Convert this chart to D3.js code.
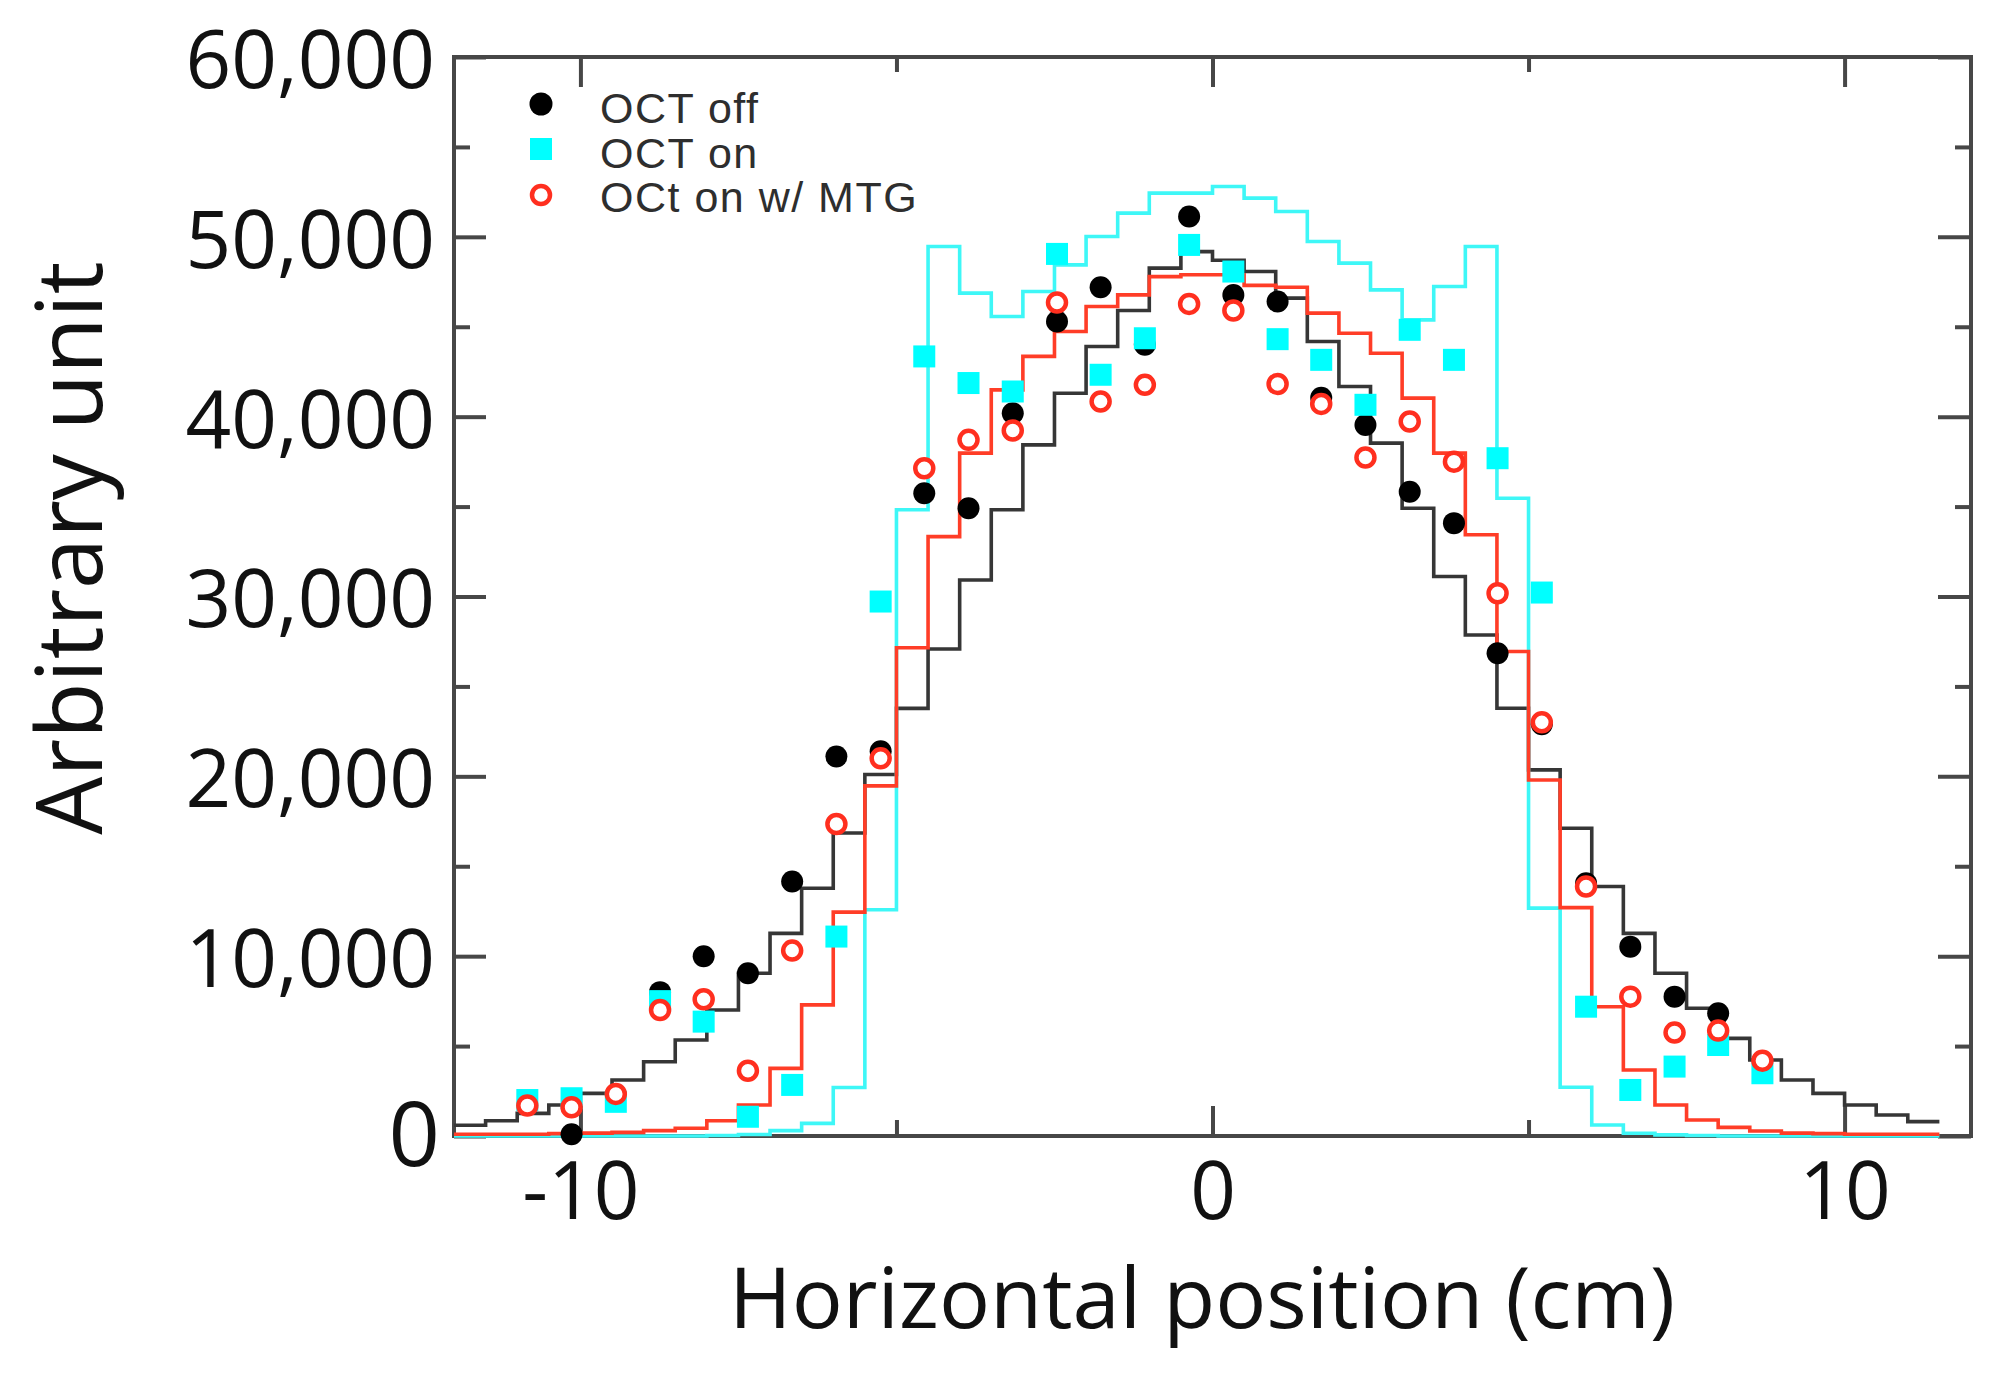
<!DOCTYPE html>
<html><head><meta charset="utf-8">
<script src="https://cdn.jsdelivr.net/npm/d3@7"></script>
<style>body{margin:0;background:#fff}svg{display:block}</style>
</head><body>
<svg id="c" width="1997" height="1378"></svg>
<script>
// ---- data ----
const binStarts = [-12,-11.5,-11,-10.5,-10,-9.5,-9,-8.5,-8,-7.5,-7,-6.5,-6,-5.5,-5,-4.5,-4,-3.5,-3,-2.5,-2,-1.5,-1,-0.5,0,0.5,1,1.5,2,2.5,3,3.5,4,4.5,5,5.5,6,6.5,7,7.5,8,8.5,9,9.5,10,10.5,11];
const binEnd = 11.5;
const histOff = [600,850,1260,1720,2370,3110,4130,5340,7010,9050,11270,13780,16850,20100,23780,27080,30920,34820,38430,41300,43900,45900,48260,49180,48700,48070,46590,44180,41680,38530,34910,31110,27860,23790,20360,17110,13870,11270,9050,7100,5430,4230,3110,2370,1720,1170,800];
const histOn = [0,0,0,0,0,0,0,0,30,80,300,700,2700,12580,34820,49460,46870,45570,46960,48440,50020,51320,52430,52430,52800,52150,51410,49740,48540,47050,45380,47240,49460,35460,12670,2710,610,150,60,30,0,0,0,0,0,0,0];
const histMTG = [100,100,100,130,160,200,300,430,850,1720,3760,7290,12450,19470,27150,33330,37970,41490,43350,44740,46130,46770,47790,47890,47890,47300,47200,45760,44640,43530,41030,37970,33430,26940,19800,12700,7190,3670,1720,890,480,280,160,130,100,100,100];

const positions = [-10.84,-10.14,-9.44,-8.74,-8.05,-7.35,-6.65,-5.95,-5.25,-4.56,-3.86,-3.16,-2.46,-1.77,-1.07,-0.37,0.33,1.03,1.72,2.42,3.12,3.82,4.51,5.21,5.91,6.61,7.31,8.0,8.7];
const ptsOff = [null,100,null,8000,10000,9050,14150,21100,21400,35740,34910,40190,45290,47200,44000,51130,46770,46400,41050,39540,35830,34080,26840,22900,14050,10530,7750,6820,null];
const ptsOn = [2000,2100,1900,7500,6360,1070,2840,11090,29720,43350,41870,41400,49050,42330,44360,49550,48070,44310,43160,40660,44830,43160,37690,30220,7190,2560,3860,5060,3490];
const ptsMTG = [1700,1600,2340,7010,7600,3630,10310,17350,21000,37130,38710,39230,46350,40840,41770,46270,45900,41820,40710,37730,39730,37500,30180,23010,13870,7750,5750,5860,4190];

const legendLabels = ["OCT off","OCT on","OCt on w/ MTG"];
const xMajor = [-10,0,10], xMinor = [-5,5];
const yMajor = [0,10000,20000,30000,40000,50000,60000];
const yMinor = [5000,15000,25000,35000,45000,55000];
const xTitle = "Horizontal position (cm)", yTitle = "Arbitrary unit";

// ---- drawing ----
const svg = d3.select("#c");
const L=454, R=1971, T=57, B=1136;
const x = d3.scaleLinear().domain([-12,12]).range([L,R]);
const y = d3.scaleLinear().domain([0,60000]).range([B,T]);
const frameCol = "#474747";
const tickFont = "'Open Sans', sans-serif";

svg.append("rect").attr("width",1997).attr("height",1378).attr("fill","#fff");

function styleAxis(g){
  g.select(".domain").remove();
  g.selectAll(".tick line").attr("stroke",frameCol).attr("stroke-width",4);
}
// bottom
svg.append("g").attr("transform",`translate(0,${B})`)
  .call(d3.axisBottom(x).tickValues(xMajor).tickSizeInner(-30).tickSizeOuter(0).tickPadding(26).tickFormat(d=>String(d)))
  .call(styleAxis)
  .call(g=>g.selectAll("text").attr("font-family",tickFont).attr("font-size",80).attr("fill","#111"));
svg.append("g").attr("transform",`translate(0,${B})`)
  .call(d3.axisBottom(x).tickValues(xMinor).tickSizeInner(-16).tickSizeOuter(0).tickFormat(""))
  .call(styleAxis);
// top
svg.append("g").attr("transform",`translate(0,${T})`)
  .call(d3.axisTop(x).tickValues(xMajor).tickSizeInner(-30).tickSizeOuter(0).tickFormat(""))
  .call(styleAxis);
svg.append("g").attr("transform",`translate(0,${T})`)
  .call(d3.axisTop(x).tickValues(xMinor).tickSizeInner(-15).tickSizeOuter(0).tickFormat(""))
  .call(styleAxis);
// left
svg.append("g").attr("transform",`translate(${L},0)`)
  .call(d3.axisLeft(y).tickValues(yMajor).tickSizeInner(-32).tickSizeOuter(0).tickPadding(19).tickFormat(d3.format(",")))
  .call(styleAxis)
  .call(g=>g.selectAll("text").attr("font-family",tickFont).attr("font-size",d=>d===0?90:80).attr("fill","#111")
     .attr("dy",d=>d===0?"0.33em":"0.38em").attr("x",d=>d===0?-14:-19));
svg.append("g").attr("transform",`translate(${L},0)`)
  .call(d3.axisLeft(y).tickValues(yMinor).tickSizeInner(-16).tickSizeOuter(0).tickFormat(""))
  .call(styleAxis);
// right
svg.append("g").attr("transform",`translate(${R},0)`)
  .call(d3.axisRight(y).tickValues(yMajor).tickSizeInner(-33).tickSizeOuter(0).tickFormat(""))
  .call(styleAxis);
svg.append("g").attr("transform",`translate(${R},0)`)
  .call(d3.axisRight(y).tickValues(yMinor).tickSizeInner(-16).tickSizeOuter(0).tickFormat(""))
  .call(styleAxis);

// frame
svg.append("rect").attr("x",L).attr("y",T).attr("width",R-L).attr("height",B-T)
  .attr("fill","none").attr("stroke",frameCol).attr("stroke-width",4);

// histograms
const line = d3.line().x(d=>x(d[0])).y(d=>y(d[1])).curve(d3.curveStepAfter);
function hist(vals,col){
  const pts = binStarts.map((s,i)=>[s,vals[i]]);
  pts.push([binEnd, vals[vals.length-1]]);
  svg.append("path").datum(pts).attr("d",line).attr("fill","none")
    .attr("stroke",col).attr("stroke-width",3.6).attr("stroke-linejoin","miter");
}
hist(histOff,"#363636");
hist(histOn,"#3ef7f7");
hist(histMTG,"#ff3d27");

// markers
const offD = positions.map((p,i)=>[p,ptsOff[i]]).filter(d=>d[1]!=null);
const onD = positions.map((p,i)=>[p,ptsOn[i]]);
const mtgD = positions.map((p,i)=>[p,ptsMTG[i]]);
svg.append("g").selectAll("circle").data(offD).join("circle")
  .attr("cx",d=>x(d[0])).attr("cy",d=>y(d[1])).attr("r",11).attr("fill","#000");
svg.append("g").selectAll("rect").data(onD).join("rect")
  .attr("x",d=>x(d[0])-11).attr("y",d=>y(d[1])-11).attr("width",22).attr("height",22).attr("fill","#0ff");
svg.append("g").selectAll("circle").data(mtgD).join("circle")
  .attr("cx",d=>x(d[0])).attr("cy",d=>y(d[1])).attr("r",9).attr("fill","#fff")
  .attr("stroke","#ff2f1f").attr("stroke-width",4.5);

// legend
const lg = svg.append("g");
const lx = 541, ly = [104,149,195], tb=[123,168,212];
lg.append("circle").attr("cx",lx).attr("cy",ly[0]).attr("r",11.5).attr("fill","#000");
lg.append("rect").attr("x",lx-11).attr("y",ly[1]-11).attr("width",22).attr("height",22).attr("fill","#0ff");
lg.append("circle").attr("cx",lx).attr("cy",ly[2]).attr("r",9).attr("fill","#fff").attr("stroke","#ff2f1f").attr("stroke-width",4.5);
lg.selectAll("text").data(legendLabels).join("text")
  .attr("x",600).attr("y",(d,i)=>tb[i]).text(d=>d)
  .attr("font-family","'Liberation Sans', Arial, sans-serif").attr("font-size",43)
  .attr("letter-spacing",1.5).attr("fill","#2e2e2e");

// titles
svg.append("text").attr("x",1202).attr("y",1328).attr("text-anchor","middle")
  .attr("font-family",tickFont).attr("font-size",85).attr("fill","#111").text(xTitle);
svg.append("text").attr("transform","translate(102,548) rotate(-90)").attr("text-anchor","middle")
  .attr("font-family",tickFont).attr("font-size",92).attr("fill","#111").text(yTitle);
</script>
</body></html>
